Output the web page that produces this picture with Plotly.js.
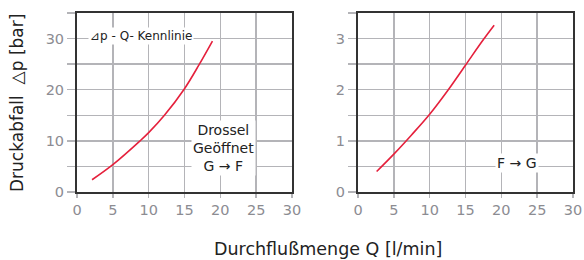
<!DOCTYPE html>
<html><head><meta charset="utf-8">
<script src="https://cdn.plot.ly/plotly-3.0.1.min.js"></script>
<style>body{margin:0;background:#fff}#c{width:584px;height:260px}</style>
</head><body><div id="c"></div>
<script>
// Left panel: G -> F (Drossel geöffnet)
const qLeft = [2.1, 5, 8.8, 10, 12.2, 15, 17, 18.9];
const dpLeft = [2.4, 5.35, 10, 11.6, 15, 20.2, 24.8, 29.5];
// Right panel: F -> G
const qRight = [2.6, 5, 7.5, 10, 12.5, 15, 17.5, 19.0];
const dpRight = [0.40, 0.74, 1.12, 1.52, 1.98, 2.48, 2.98, 3.26];
const xTicks = [0, 5, 10, 15, 20, 25, 30];
const yTicksLeft = [0, 5, 10, 15, 20, 25, 30, 35];
const yLabelsLeft = ['0', '', '10', '', '20', '', '30', ''];
const yTicksRight = [0, 0.5, 1, 1.5, 2, 2.5, 3, 3.5];
const yLabelsRight = ['0', '', '1', '', '2', '', '3', ''];

const red = '#e5203c';
const grid = '#b4b4b8';
const tickCol = '#8c8c92';
const tfont = '"DejaVu Sans", sans-serif';
const dark = '#222';

const data = [
  {x: qLeft, y: dpLeft, xaxis: 'x', yaxis: 'y', mode: 'lines', line: {color: red, width: 1.6, shape: 'spline', smoothing: 1}, hoverinfo: 'skip'},
  {x: qRight, y: dpRight, xaxis: 'x2', yaxis: 'y2', mode: 'lines', line: {color: red, width: 1.6, shape: 'spline', smoothing: 1}, hoverinfo: 'skip'}
];

function xax(domain, anchor) {
  return {domain: domain, anchor: anchor, range: [0, 30], tickmode: 'array', tickvals: xTicks, ticktext: xTicks.map(String),
    showgrid: true, gridcolor: grid, gridwidth: 1.5, zeroline: false,
    showline: true, linecolor: '#333', linewidth: 2, mirror: true,
    ticks: 'outside', ticklen: 4, tickcolor: grid, tickwidth: 1.5,
    tickfont: {family: tfont, size: 14.5, color: tickCol}};
}
function yax(range, vals, labels, anchor) {
  return {domain: [1 - 192/260, 1 - 13/260], anchor: anchor, range: range, tickmode: 'array', tickvals: vals, ticktext: labels,
    showgrid: true, gridcolor: grid, gridwidth: 1.5, zeroline: false,
    showline: true, linecolor: '#333', linewidth: 2, mirror: true,
    ticks: 'outside', ticklen: 8, tickcolor: grid, tickwidth: 1.5,
    tickfont: {family: tfont, size: 14.5, color: tickCol}};
}

const layout = {
  width: 584, height: 260,
  margin: {l: 0, r: 0, t: 0, b: 0},
  paper_bgcolor: '#fff', plot_bgcolor: '#fff',
  showlegend: false,
  xaxis: xax([77/584, 292/584], 'y'),
  yaxis: yax([0, 35], yTicksLeft, yLabelsLeft, 'x'),
  xaxis2: xax([358/584, 573/584], 'y2'),
  yaxis2: yax([0, 3.5], yTicksRight, yLabelsRight, 'x2'),
  annotations: [
    {xref: 'x', yref: 'y', x: 1.5, y: 30.5, xanchor: 'left', yanchor: 'middle', showarrow: false,
     text: '⊿p - Q- Kennlinie', bgcolor: '#fff', font: {family: tfont, size: 12, color: dark}},
    {xref: 'x', yref: 'y', x: 20.4, y: 8.6, xanchor: 'center', yanchor: 'middle', showarrow: false,
     text: 'Drossel<br>Geöffnet<br>G → F', bgcolor: '#fff', font: {family: tfont, size: 14, color: dark}},
    {xref: 'x2', yref: 'y2', x: 22.2, y: 0.56, xanchor: 'center', yanchor: 'middle', showarrow: false,
     text: 'F → G', bgcolor: '#fff', font: {family: tfont, size: 14, color: dark}},
    {xref: 'paper', yref: 'paper', x: 328/584, y: 1 - 249/260, xanchor: 'center', yanchor: 'middle', showarrow: false,
     text: 'Durchflußmenge Q [l/min]', font: {family: tfont, size: 17.5, color: dark}},
    {xref: 'paper', yref: 'paper', x: 17/584, y: 1 - 103/260, xanchor: 'center', yanchor: 'middle', showarrow: false, textangle: -90,
     text: 'Druckabfall  △p [bar]', font: {family: tfont, size: 17, color: dark}}
  ]
};

Plotly.newPlot('c', data, layout, {staticPlot: true, displayModeBar: false});
</script></body></html>
